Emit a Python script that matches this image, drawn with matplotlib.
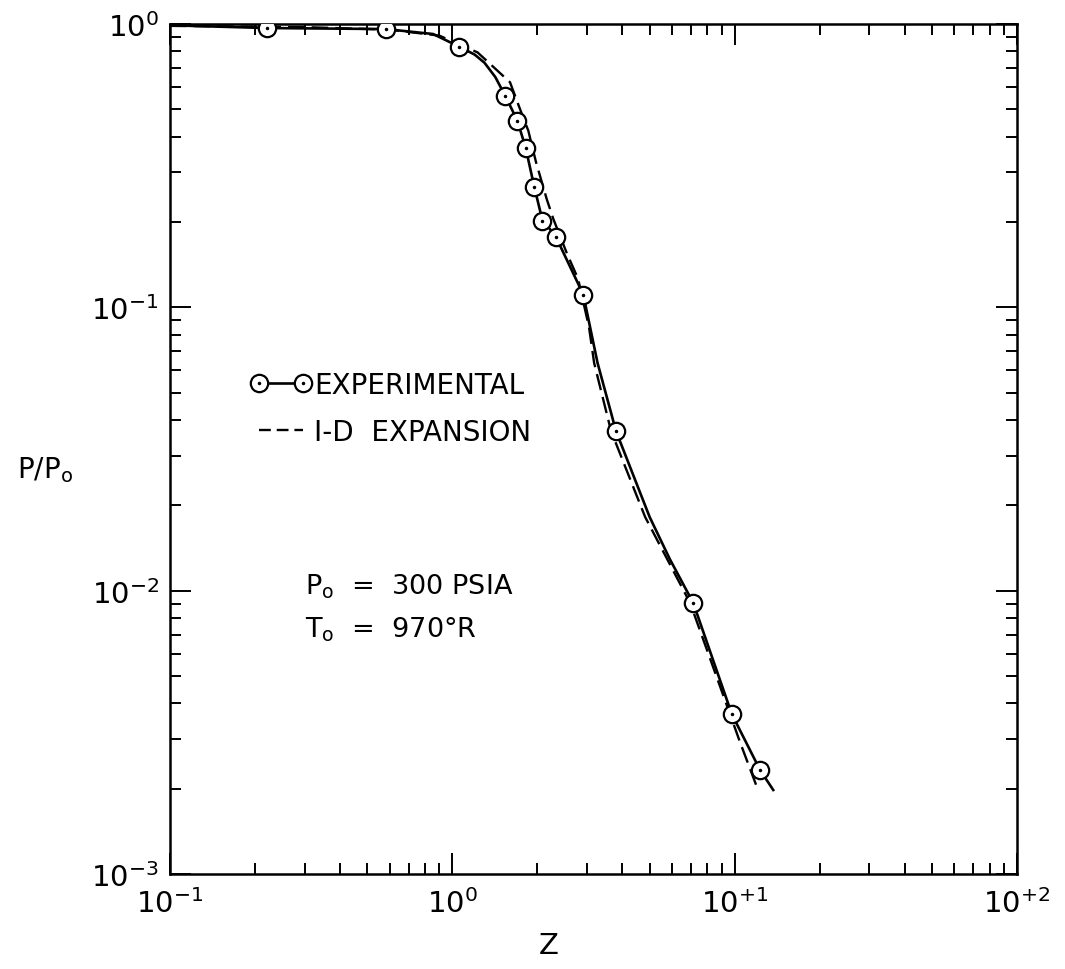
import matplotlib
matplotlib.use('Agg')
import matplotlib.pyplot as plt
from matplotlib.lines import Line2D
from matplotlib.legend_handler import HandlerTuple
from matplotlib.ticker import FixedLocator, FixedFormatter, LogLocator, NullFormatter

# experimental points (Z, P/Po)
EXP_Z = [0.22, 0.58, 1.06, 1.54, 1.70, 1.82, 1.95, 2.08, 2.33, 2.91, 3.8, 7.14, 9.77, 12.3]
EXP_P = [0.968, 0.960, 0.831, 0.558, 0.456, 0.365, 0.267, 0.201, 0.177, 0.111, 0.0366, 0.00904, 0.00367, 0.00233]

# solid line faired through the data
FIT_Z = [0.1, 0.22, 0.58, 0.855, 1.06, 1.2, 1.30, 1.42, 1.54, 1.70, 1.82, 1.95, 2.08, 2.33, 2.91, 3.27, 3.8, 5.0, 5.9, 7.14, 9.77, 12.3, 13.7]
FIT_P = [0.99, 0.968, 0.960, 0.922, 0.831, 0.78, 0.73, 0.65, 0.558, 0.456, 0.365, 0.267, 0.205, 0.177, 0.111, 0.0636, 0.0366, 0.0182, 0.0129, 0.00904, 0.00367, 0.00233, 0.00198]

# 1-D expansion theory (dashed)
ONE_D_Z = [0.1, 0.3, 0.6, 0.9, 1.229, 1.601, 1.737, 1.859, 1.98, 2.16, 2.28, 2.54, 2.79, 3.05, 3.18, 3.65, 4.82, 6.96, 10.45, 12.1]
ONE_D_P = [0.985, 0.975, 0.955, 0.91, 0.794, 0.623, 0.501, 0.420, 0.325, 0.241, 0.205, 0.156, 0.126, 0.085, 0.0636, 0.0366, 0.0182, 0.00904, 0.00292, 0.00198]

X_TICKS = [0.1, 1, 10, 100]
X_LABELS = ['$10^{-1}$', '$10^{0}$', '$10^{+1}$', '$10^{+2}$']
Y_TICKS = [1e-3, 1e-2, 1e-1, 1]
Y_LABELS = ['$10^{-3}$', '$10^{-2}$', '$10^{-1}$', '$10^{0}$']

plt.rcParams['mathtext.default'] = 'regular'
plt.rcParams['font.family'] = ['DejaVu Sans']

fig = plt.figure(figsize=(10.65, 9.7), dpi=100)
ax = fig.add_axes([0.1596, 0.0979, 0.7953, 0.8763])

ax.plot(FIT_Z, FIT_P, '-', color='black', lw=1.9, zorder=2)
ax.plot(ONE_D_Z, ONE_D_P, '--', color='black', lw=1.7, dashes=(7, 3), zorder=2)
ax.plot(EXP_Z, EXP_P, 'o', ms=12.5, mfc='white', mec='black', mew=1.6, zorder=3)
ax.plot(EXP_Z, EXP_P, '.', ms=3, color='black', zorder=4)

ax.set_xscale('log')
ax.set_yscale('log')
ax.set_xlim(0.1, 100)
ax.set_ylim(1e-3, 1)

ax.xaxis.set_major_locator(FixedLocator(X_TICKS))
ax.xaxis.set_major_formatter(FixedFormatter(X_LABELS))
ax.yaxis.set_major_locator(FixedLocator(Y_TICKS))
ax.yaxis.set_major_formatter(FixedFormatter(Y_LABELS))
ax.xaxis.set_minor_locator(LogLocator(base=10, subs=range(2, 10)))
ax.yaxis.set_minor_locator(LogLocator(base=10, subs=range(2, 10)))
ax.xaxis.set_minor_formatter(NullFormatter())
ax.yaxis.set_minor_formatter(NullFormatter())

ax.tick_params(which='both', direction='in', top=True, right=True, width=1.4)
ax.tick_params(which='major', length=15, labelsize=21)
ax.tick_params(which='minor', length=8)
ax.tick_params(axis='x', which='major', pad=10)
ax.tick_params(axis='y', which='major', pad=8)
for s in ax.spines.values():
    s.set_linewidth(1.8)

exp_handle = (
    Line2D([], [], color='black', lw=1.9, marker='o', ms=12.5, mfc='white', mec='black', mew=1.6),
    Line2D([], [], ls='none', marker='.', ms=3, color='black'),
)
dash_handle = Line2D([], [], color='black', lw=1.7, ls='--', dashes=(5, 2.5))
ax.legend([exp_handle, dash_handle], ['EXPERIMENTAL', 'I-D  EXPANSION'], loc='upper left',
          bbox_to_anchor=(0.095, 0.592), frameon=False, fontsize=20, numpoints=2,
          handlelength=2.2, handletextpad=0.1, labelspacing=0.68,
          borderpad=0, borderaxespad=0,
          handler_map={tuple: HandlerTuple(ndivide=1)})

ax.text(0.159, 0.339, 'P$_{o}$  =  300 PSIA', transform=ax.transAxes, fontsize=19.5, va='center')
ax.text(0.159, 0.288, 'T$_{o}$  =  970°R', transform=ax.transAxes, fontsize=19.5, va='center')

fig.text(0.042, 0.515, 'P/P$_{o}$', fontsize=20, ha='center', va='center')
fig.text(0.515, 0.01, 'Z', fontsize=21, ha='center', va='bottom')

fig.savefig('out.png', dpi=100)
